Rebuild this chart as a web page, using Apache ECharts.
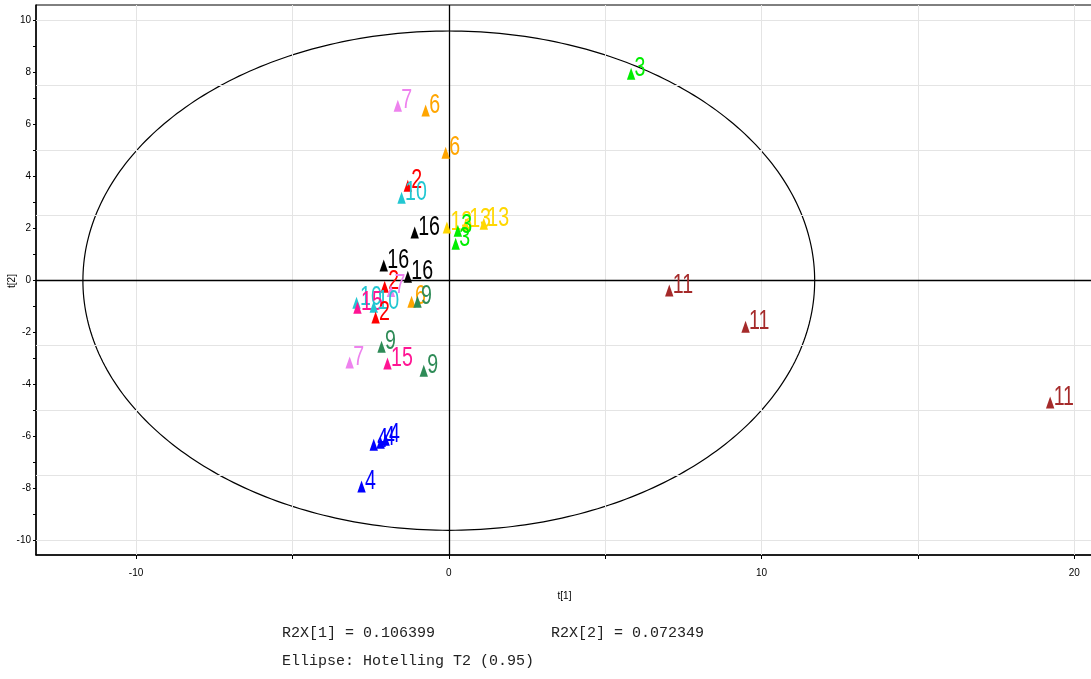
<!DOCTYPE html>
<html>
<head>
<meta charset="utf-8">
<script src="https://cdn.jsdelivr.net/npm/echarts@6/dist/echarts.min.js"></script>
<style>
html,body{margin:0;padding:0;background:#fff;}
#chart{width:1091px;height:679px;}
</style>
</head>
<body>
<div id="chart"></div>
<script>
// ---- data ----
const pointGroups = ['3','7','6','6','2','10','16','13','13','13','3','3','16','16','2','7','6','9','10','15','10','2','9','7','15','9','4','4','4','4','11','11','11'];
const t1Values = [5.83,-1.63,-0.74,-0.10,-1.31,-1.51,-1.09,-0.06,0.54,1.12,0.29,0.22,-2.08,-1.31,-2.05,-1.85,-1.19,-1.00,-2.95,-2.92,-2.40,-2.34,-2.15,-3.17,-1.96,-0.80,-2.40,-2.18,-2.02,-2.79,7.05,9.49,19.23];
const t2Values = [7.96,6.73,6.54,4.92,3.65,3.19,1.85,2.04,2.15,2.19,1.92,1.42,0.58,0.15,-0.23,-0.40,-0.81,-0.81,-0.85,-1.04,-1.00,-1.42,-2.54,-3.15,-3.19,-3.46,-6.31,-6.23,-6.12,-7.92,-0.38,-1.77,-4.69];
const xTickLabels = [-10, 0, 10, 20];
const xTicks = [-10, -5, 0, 5, 10, 15, 20];
const yTickLabels = [-10, -8, -6, -4, -2, 0, 2, 4, 6, 8, 10];
const yTicks = [-10,-9,-8,-7,-6,-5,-4,-3,-2,-1,0,1,2,3,4,5,6,7,8,9,10];
const xGrid = [-10, -5, 5, 10, 15, 20];
const yGrid = [-10, -7.5, -5, -2.5, 2.5, 5, 7.5, 10];
const ellipseA = 11.7;   // Hotelling T2 ellipse semi-axis on t[1]
const ellipseB = 9.6;    // Hotelling T2 ellipse semi-axis on t[2]
const r2x1 = '0.106399';
const r2x2 = '0.072349';

// ---- styles ----
const groupColors = {
  '2': '#ff0000', '3': '#00ee00', '4': '#0000ff', '6': '#ffa500', '7': '#ee82ee',
  '9': '#2e8b57', '10': '#22c7d2', '11': '#a52a2a', '13': '#ffd700', '15': '#ff1493', '16': '#000000'
};
const narrow = '"Liberation Sans Narrow", "Liberation Sans", Arial, sans-serif';

const pointData = t1Values.map((v, i) => [v, t2Values[i]]);

const chart = echarts.init(document.getElementById('chart'), null, { renderer: 'canvas' });
chart.setOption({
  animation: false,
  backgroundColor: '#fff',
  grid: { left: 36, right: -2, top: 5, bottom: 124, show: true, borderColor: '#000', borderWidth: 1, outerBoundsMode: 'none' },
  xAxis: {
    type: 'value', min: -13.2, max: 20.6,
    name: 't[1]', nameLocation: 'middle', nameGap: 36,
    nameTextStyle: { fontFamily: narrow, fontSize: 10, color: '#000' },
    axisLine: { show: true, onZero: false, lineStyle: { color: '#000', width: 1.5 } },
    axisTick: { show: true, inside: false, length: 4, customValues: xTicks, lineStyle: { color: '#000' } },
    axisLabel: { customValues: xTickLabels, fontFamily: narrow, fontSize: 10, color: '#000', margin: 13 },
    splitLine: { show: false }
  },
  yAxis: {
    type: 'value', min: -10.55, max: 10.6,
    axisLine: { show: true, onZero: false, lineStyle: { color: '#000', width: 1.5 } },
    axisTick: { show: true, length: 3, customValues: yTicks, lineStyle: { color: '#000' } },
    axisLabel: { customValues: yTickLabels, fontFamily: narrow, fontSize: 10, color: '#000', margin: 5 },
    splitLine: { show: false }
  },
  series: [
    {
      type: 'scatter', data: [], silent: true,
      markLine: {
        silent: true, symbol: 'none', animation: false, label: { show: false },
        lineStyle: { color: '#e4e4e4', width: 1, type: 'solid' },
        data: xGrid.map(v => ({ xAxis: v })).concat(yGrid.map(v => ({ yAxis: v })))
      }
    },
    {
      type: 'scatter', data: [], silent: true,
      markLine: {
        silent: true, symbol: 'none', animation: false, label: { show: false },
        lineStyle: { color: '#000', width: 1.3, type: 'solid' },
        data: [{ xAxis: 0 }, { yAxis: 0 }]
      }
    },
    {
      type: 'custom', silent: true, clip: true,
      data: [[0, 0]],
      renderItem: function (params, api) {
        const pts = [];
        for (let k = 0; k < 360; k++) {
          const a = k * Math.PI / 180;
          pts.push(api.coord([api.value(0) + ellipseA * Math.cos(a), api.value(1) + ellipseB * Math.sin(a)]));
        }
        return { type: 'polygon', shape: { points: pts }, style: { fill: 'none', stroke: '#000', lineWidth: 1.2 } };
      },
      z: 3
    },
    {
      type: 'custom', silent: true,
      data: pointData,
      renderItem: function (params, api) {
        const p = api.coord([api.value(0), api.value(1)]);
        const g = pointGroups[params.dataIndex];
        const c = groupColors[g];
        return {
          type: 'group',
          children: [
            { type: 'polygon', shape: { points: [[p[0], p[1] - 6], [p[0] - 4.2, p[1] + 6], [p[0] + 4.2, p[1] + 6]] }, style: { fill: c } },
            { type: 'text', x: p[0] + 3.5, y: p[1] - 5.5, scaleX: 0.7, scaleY: 1,
              style: { text: g, fill: c, font: '28px "Liberation Sans", Arial, sans-serif', align: 'left', verticalAlign: 'middle' } }
          ]
        };
      },
      z: 5
    }
  ],
  graphic: [
    { type: 'text', x: 12, y: 281, rotation: Math.PI / 2, style: { text: 't[2]', font: '10px ' + narrow, fill: '#000', align: 'center', verticalAlign: 'middle' } },
    { type: 'text', left: 282, top: 626, style: { text: 'R2X[1] = ' + r2x1, font: '15px "Liberation Mono", monospace', fill: '#222' } },
    { type: 'text', left: 551, top: 626, style: { text: 'R2X[2] = ' + r2x2, font: '15px "Liberation Mono", monospace', fill: '#222' } },
    { type: 'text', left: 282, top: 654, style: { text: 'Ellipse: Hotelling T2 (0.95)', font: '15px "Liberation Mono", monospace', fill: '#222' } }
  ]
});
</script>
</body>
</html>
